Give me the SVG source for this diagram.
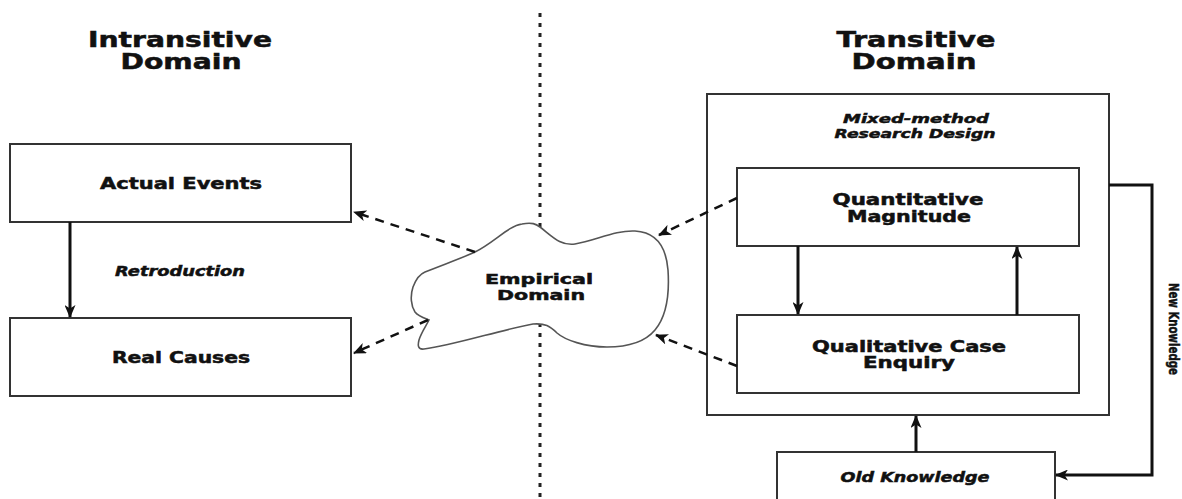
<svg xmlns="http://www.w3.org/2000/svg" width="1182" height="499" viewBox="0 0 1182 499">
<style>
.box{fill:#fff;stroke:#333;stroke-width:2}
.t{font-family:"DejaVu Sans","Liberation Sans",sans-serif;font-weight:bold;fill:#111;stroke:#111;stroke-width:0.5;text-anchor:middle}
.it{font-style:italic}
.solid{fill:none;stroke:#111;stroke-width:3}
.dash{fill:none;stroke:#111;stroke-width:2.5;stroke-dasharray:9 7}
.cloud{fill:#fff;stroke:#555;stroke-width:1.6}
</style>
<defs>
<marker id="ah" viewBox="0 0 13 11" refX="12" refY="5.5" markerWidth="13" markerHeight="11" markerUnits="userSpaceOnUse" orient="auto">
<path d="M0,0 L13,5.5 L0,11 L3.5,5.5 Z" fill="#111"/>
</marker>
</defs>
<rect width="1182" height="499" fill="#fff"/>
<line x1="540" y1="13" x2="540" y2="499" stroke="#222" stroke-width="3" stroke-dasharray="4 6"/>
<g id="title-intransitive">
<text class="t" x="180" y="47" font-size="20.5" textLength="184" lengthAdjust="spacingAndGlyphs">Intransitive</text>
<text class="t" x="181" y="69" font-size="20.5" textLength="121" lengthAdjust="spacingAndGlyphs">Domain</text>
</g>
<g id="title-transitive">
<text class="t" x="916" y="47" font-size="20.5" textLength="159" lengthAdjust="spacingAndGlyphs">Transitive</text>
<text class="t" x="914" y="69" font-size="20.5" textLength="125" lengthAdjust="spacingAndGlyphs">Domain</text>
</g>
<g id="actual-events">
<rect class="box" x="10" y="144" width="341" height="78"/>
<text class="t" x="181" y="189" font-size="15" textLength="162" lengthAdjust="spacingAndGlyphs">Actual Events</text>
</g>
<g id="real-causes">
<rect class="box" x="10" y="318" width="341" height="78"/>
<text class="t" x="181" y="363" font-size="15" textLength="138" lengthAdjust="spacingAndGlyphs">Real Causes</text>
</g>
<g id="retroduction-label">
<text class="t it" x="180" y="276" font-size="14" textLength="130" lengthAdjust="spacingAndGlyphs">Retroduction</text>
</g>
<g id="empirical-domain">
<path class="cloud" d="M425,272 C445,264 462,258 475,252 C495,242 508,226 522,224 C532,222 536,224 540,227 C552,236 560,246 575,244 C595,241 615,230 635,231 C655,232 666,245 668,270 C670,300 665,318 655,330 C645,342 628,347 607,347 C585,347 565,340 557,333 C550,326 545,323 533,324 C500,330 455,345 424,349 C417,350 418,344 419,340 C421,333 426,326 429,320 C424,318 418,316 415,312 C411,306 410,296 413,287 C416,279 420,274 425,272 Z"/>
<text class="t" x="539" y="284" font-size="14" textLength="108" lengthAdjust="spacingAndGlyphs">Empirical</text>
<text class="t" x="541" y="300" font-size="14" textLength="88" lengthAdjust="spacingAndGlyphs">Domain</text>
</g>
<g id="mixed-method">
<rect class="box" x="707" y="94" width="402" height="321"/>
<text class="t it" x="916" y="123" font-size="12.5" textLength="146" lengthAdjust="spacingAndGlyphs">Mixed-method</text>
<text class="t it" x="915" y="138" font-size="12.5" textLength="161" lengthAdjust="spacingAndGlyphs">Research Design</text>
</g>
<g id="quantitative-magnitude">
<rect class="box" x="737" y="168" width="342" height="78"/>
<text class="t" x="908" y="205" font-size="15" textLength="151" lengthAdjust="spacingAndGlyphs">Quantitative</text>
<text class="t" x="909" y="222" font-size="15" textLength="124" lengthAdjust="spacingAndGlyphs">Magnitude</text>
</g>
<g id="qualitative-case-enquiry">
<rect class="box" x="737" y="315" width="342" height="78"/>
<text class="t" x="909" y="352" font-size="15" textLength="194" lengthAdjust="spacingAndGlyphs">Qualitative Case</text>
<text class="t" x="909" y="368" font-size="15" textLength="92" lengthAdjust="spacingAndGlyphs">Enquiry</text>
</g>
<g id="old-knowledge">
<rect class="box" x="777" y="452" width="278" height="60"/>
<text class="t it" x="915" y="482" font-size="14" textLength="149" lengthAdjust="spacingAndGlyphs">Old Knowledge</text>
</g>
<g id="connectors">
<line class="solid" x1="70" y1="222" x2="70" y2="317" marker-end="url(#ah)"/>
<line class="dash" x1="475" y1="252" x2="354" y2="212" marker-end="url(#ah)"/>
<line class="dash" x1="428" y1="320" x2="354" y2="353" marker-end="url(#ah)"/>
<line class="dash" x1="737" y1="198" x2="659" y2="235" marker-end="url(#ah)"/>
<line class="dash" x1="737" y1="366" x2="656" y2="335" marker-end="url(#ah)"/>
<line class="solid" x1="798" y1="246" x2="798" y2="314" marker-end="url(#ah)"/>
<line class="solid" x1="1017" y1="315" x2="1017" y2="247" marker-end="url(#ah)"/>
<line class="solid" x1="916" y1="452" x2="916" y2="416" marker-end="url(#ah)"/>
<polyline class="solid" points="1109,185 1152,185 1152,475 1056,475" marker-end="url(#ah)"/>
<text class="t" font-size="13.5" transform="translate(1169,329) rotate(90)" textLength="92" lengthAdjust="spacingAndGlyphs">New Knowledge</text>
</g>
</svg>
